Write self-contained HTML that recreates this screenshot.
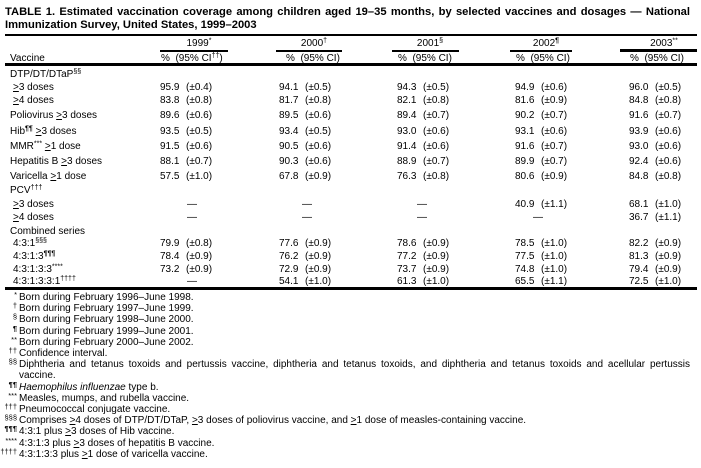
<!DOCTYPE html>
<html><head><meta charset="utf-8">
<style>
html,body{margin:0;padding:0;background:#fff;}
#c{position:relative;width:701px;height:468px;overflow:hidden;background:#fff;color:#000;font-family:"Liberation Sans",Arial,sans-serif;}
.t{position:absolute;white-space:nowrap;font-size:10px;line-height:13px;}
.b{font-weight:bold;font-size:11.2px;}
.r{position:absolute;background:#000;}
sup{font-size:7px;line-height:0;vertical-align:3.5px;}
.p{font-weight:bold;}
.f{position:absolute;white-space:nowrap;font-size:10px;line-height:11px;left:19px;}
.fs{position:absolute;white-space:nowrap;font-size:7.5px;line-height:7px;left:0;width:17px;text-align:right;}
.c{text-align:center;width:60px;}
</style></head><body><div id="c">

<div class="t b" style="left:5px;top:6px;width:685px;text-align:justify;text-align-last:justify;">TABLE 1. Estimated vaccination coverage among children aged 19–35 months, by selected vaccines and dosages — National</div>
<div class="t b" style="left:5px;top:19px;">Immunization Survey, United States, 1999–2003</div>

<div class="r" style="left:5px;top:34px;width:692px;height:2px;"></div>

<div class="t c" style="left:169px;top:37px;">1999<sup>*</sup></div>
<div class="t c" style="left:284px;top:37px;">2000<sup>†</sup></div>
<div class="t c" style="left:400px;top:37px;">2001<sup>§</sup></div>
<div class="t c" style="left:516px;top:37px;">2002<sup class="p">¶</sup></div>
<div class="t c" style="left:634px;top:37px;">2003<sup>**</sup></div>

<div class="r" style="left:160px;top:50px;width:68px;height:2px;"></div>
<div class="r" style="left:276px;top:50px;width:66px;height:2px;"></div>
<div class="r" style="left:392px;top:50px;width:67px;height:2px;"></div>
<div class="r" style="left:510px;top:50px;width:62px;height:2px;"></div>
<div class="r" style="left:620px;top:49px;width:77px;height:3px;"></div>

<div class="t" style="left:10px;top:52px;">Vaccine</div>
<div class="t" style="left:161px;top:52px;">%&nbsp; (95% CI<sup>††</sup>)</div>
<div class="t" style="left:286px;top:52px;">%&nbsp; (95% CI)</div>
<div class="t" style="left:398px;top:52px;">%&nbsp; (95% CI)</div>
<div class="t" style="left:516px;top:52px;">%&nbsp; (95% CI)</div>
<div class="t" style="left:630px;top:52px;">%&nbsp; (95% CI)</div>

<div class="r" style="left:5px;top:63px;width:692px;height:3px;"></div>

<!-- labels -->
<div class="t" style="left:10px;top:68px;">DTP/DT/DTaP<sup>§§</sup></div>
<div class="t" style="left:13px;top:81px;"><u>&gt;</u>3 doses</div>
<div class="t" style="left:13px;top:94px;"><u>&gt;</u>4 doses</div>
<div class="t" style="left:10px;top:109px;">Poliovirus <u>&gt;</u>3 doses</div>
<div class="t" style="left:10px;top:124.5px;">Hib<sup class="p">¶¶</sup> <u>&gt;</u>3 doses</div>
<div class="t" style="left:10px;top:139.5px;">MMR<sup>***</sup> <u>&gt;</u>1 dose</div>
<div class="t" style="left:10px;top:154.5px;">Hepatitis B <u>&gt;</u>3 doses</div>
<div class="t" style="left:10px;top:169.5px;">Varicella <u>&gt;</u>1 dose</div>
<div class="t" style="left:10px;top:183.5px;">PCV<sup>†††</sup></div>
<div class="t" style="left:13px;top:197.5px;"><u>&gt;</u>3 doses</div>
<div class="t" style="left:13px;top:210.5px;"><u>&gt;</u>4 doses</div>
<div class="t" style="left:10px;top:224.5px;">Combined series</div>
<div class="t" style="left:13px;top:237px;">4:3:1<sup>§§§</sup></div>
<div class="t" style="left:13px;top:249.5px;">4:3:1:3<sup class="p">¶¶¶</sup></div>
<div class="t" style="left:13px;top:262.5px;">4:3:1:3:3<sup>****</sup></div>
<div class="t" style="left:13px;top:275px;">4:3:1:3:3:1<sup>††††</sup></div>

<!-- DTP >=3 -->
<div class="t" style="left:160px;top:81px;">95.9</div><div class="t" style="left:186px;top:81px;">(±0.4)</div>
<div class="t" style="left:279px;top:81px;">94.1</div><div class="t" style="left:305px;top:81px;">(±0.5)</div>
<div class="t" style="left:397px;top:81px;">94.3</div><div class="t" style="left:423px;top:81px;">(±0.5)</div>
<div class="t" style="left:515px;top:81px;">94.9</div><div class="t" style="left:541px;top:81px;">(±0.6)</div>
<div class="t" style="left:629px;top:81px;">96.0</div><div class="t" style="left:655px;top:81px;">(±0.5)</div>
<!-- DTP >=4 -->
<div class="t" style="left:160px;top:94px;">83.8</div><div class="t" style="left:186px;top:94px;">(±0.8)</div>
<div class="t" style="left:279px;top:94px;">81.7</div><div class="t" style="left:305px;top:94px;">(±0.8)</div>
<div class="t" style="left:397px;top:94px;">82.1</div><div class="t" style="left:423px;top:94px;">(±0.8)</div>
<div class="t" style="left:515px;top:94px;">81.6</div><div class="t" style="left:541px;top:94px;">(±0.9)</div>
<div class="t" style="left:629px;top:94px;">84.8</div><div class="t" style="left:655px;top:94px;">(±0.8)</div>
<!-- Polio -->
<div class="t" style="left:160px;top:109px;">89.6</div><div class="t" style="left:186px;top:109px;">(±0.6)</div>
<div class="t" style="left:279px;top:109px;">89.5</div><div class="t" style="left:305px;top:109px;">(±0.6)</div>
<div class="t" style="left:397px;top:109px;">89.4</div><div class="t" style="left:423px;top:109px;">(±0.7)</div>
<div class="t" style="left:515px;top:109px;">90.2</div><div class="t" style="left:541px;top:109px;">(±0.7)</div>
<div class="t" style="left:629px;top:109px;">91.6</div><div class="t" style="left:655px;top:109px;">(±0.7)</div>
<!-- Hib -->
<div class="t" style="left:160px;top:124.5px;">93.5</div><div class="t" style="left:186px;top:124.5px;">(±0.5)</div>
<div class="t" style="left:279px;top:124.5px;">93.4</div><div class="t" style="left:305px;top:124.5px;">(±0.5)</div>
<div class="t" style="left:397px;top:124.5px;">93.0</div><div class="t" style="left:423px;top:124.5px;">(±0.6)</div>
<div class="t" style="left:515px;top:124.5px;">93.1</div><div class="t" style="left:541px;top:124.5px;">(±0.6)</div>
<div class="t" style="left:629px;top:124.5px;">93.9</div><div class="t" style="left:655px;top:124.5px;">(±0.6)</div>
<!-- MMR -->
<div class="t" style="left:160px;top:139.5px;">91.5</div><div class="t" style="left:186px;top:139.5px;">(±0.6)</div>
<div class="t" style="left:279px;top:139.5px;">90.5</div><div class="t" style="left:305px;top:139.5px;">(±0.6)</div>
<div class="t" style="left:397px;top:139.5px;">91.4</div><div class="t" style="left:423px;top:139.5px;">(±0.6)</div>
<div class="t" style="left:515px;top:139.5px;">91.6</div><div class="t" style="left:541px;top:139.5px;">(±0.7)</div>
<div class="t" style="left:629px;top:139.5px;">93.0</div><div class="t" style="left:655px;top:139.5px;">(±0.6)</div>
<!-- HepB -->
<div class="t" style="left:160px;top:154.5px;">88.1</div><div class="t" style="left:186px;top:154.5px;">(±0.7)</div>
<div class="t" style="left:279px;top:154.5px;">90.3</div><div class="t" style="left:305px;top:154.5px;">(±0.6)</div>
<div class="t" style="left:397px;top:154.5px;">88.9</div><div class="t" style="left:423px;top:154.5px;">(±0.7)</div>
<div class="t" style="left:515px;top:154.5px;">89.9</div><div class="t" style="left:541px;top:154.5px;">(±0.7)</div>
<div class="t" style="left:629px;top:154.5px;">92.4</div><div class="t" style="left:655px;top:154.5px;">(±0.6)</div>
<!-- Varicella -->
<div class="t" style="left:160px;top:169.5px;">57.5</div><div class="t" style="left:186px;top:169.5px;">(±1.0)</div>
<div class="t" style="left:279px;top:169.5px;">67.8</div><div class="t" style="left:305px;top:169.5px;">(±0.9)</div>
<div class="t" style="left:397px;top:169.5px;">76.3</div><div class="t" style="left:423px;top:169.5px;">(±0.8)</div>
<div class="t" style="left:515px;top:169.5px;">80.6</div><div class="t" style="left:541px;top:169.5px;">(±0.9)</div>
<div class="t" style="left:629px;top:169.5px;">84.8</div><div class="t" style="left:655px;top:169.5px;">(±0.8)</div>
<!-- PCV >=3 -->
<div class="t" style="left:187px;top:197.5px;">—</div>
<div class="t" style="left:302px;top:197.5px;">—</div>
<div class="t" style="left:417px;top:197.5px;">—</div>
<div class="t" style="left:515px;top:197.5px;">40.9</div><div class="t" style="left:541px;top:197.5px;">(±1.1)</div>
<div class="t" style="left:629px;top:197.5px;">68.1</div><div class="t" style="left:655px;top:197.5px;">(±1.0)</div>
<!-- PCV >=4 -->
<div class="t" style="left:187px;top:210.5px;">—</div>
<div class="t" style="left:302px;top:210.5px;">—</div>
<div class="t" style="left:417px;top:210.5px;">—</div>
<div class="t" style="left:533px;top:210.5px;">—</div>
<div class="t" style="left:629px;top:210.5px;">36.7</div><div class="t" style="left:655px;top:210.5px;">(±1.1)</div>
<!-- 4:3:1 -->
<div class="t" style="left:160px;top:237px;">79.9</div><div class="t" style="left:186px;top:237px;">(±0.8)</div>
<div class="t" style="left:279px;top:237px;">77.6</div><div class="t" style="left:305px;top:237px;">(±0.9)</div>
<div class="t" style="left:397px;top:237px;">78.6</div><div class="t" style="left:423px;top:237px;">(±0.9)</div>
<div class="t" style="left:515px;top:237px;">78.5</div><div class="t" style="left:541px;top:237px;">(±1.0)</div>
<div class="t" style="left:629px;top:237px;">82.2</div><div class="t" style="left:655px;top:237px;">(±0.9)</div>
<!-- 4:3:1:3 -->
<div class="t" style="left:160px;top:249.5px;">78.4</div><div class="t" style="left:186px;top:249.5px;">(±0.9)</div>
<div class="t" style="left:279px;top:249.5px;">76.2</div><div class="t" style="left:305px;top:249.5px;">(±0.9)</div>
<div class="t" style="left:397px;top:249.5px;">77.2</div><div class="t" style="left:423px;top:249.5px;">(±0.9)</div>
<div class="t" style="left:515px;top:249.5px;">77.5</div><div class="t" style="left:541px;top:249.5px;">(±1.0)</div>
<div class="t" style="left:629px;top:249.5px;">81.3</div><div class="t" style="left:655px;top:249.5px;">(±0.9)</div>
<!-- 4:3:1:3:3 -->
<div class="t" style="left:160px;top:262.5px;">73.2</div><div class="t" style="left:186px;top:262.5px;">(±0.9)</div>
<div class="t" style="left:279px;top:262.5px;">72.9</div><div class="t" style="left:305px;top:262.5px;">(±0.9)</div>
<div class="t" style="left:397px;top:262.5px;">73.7</div><div class="t" style="left:423px;top:262.5px;">(±0.9)</div>
<div class="t" style="left:515px;top:262.5px;">74.8</div><div class="t" style="left:541px;top:262.5px;">(±1.0)</div>
<div class="t" style="left:629px;top:262.5px;">79.4</div><div class="t" style="left:655px;top:262.5px;">(±0.9)</div>
<!-- 4:3:1:3:3:1 -->
<div class="t" style="left:187px;top:275px;">—</div>
<div class="t" style="left:279px;top:275px;">54.1</div><div class="t" style="left:305px;top:275px;">(±1.0)</div>
<div class="t" style="left:397px;top:275px;">61.3</div><div class="t" style="left:423px;top:275px;">(±1.0)</div>
<div class="t" style="left:515px;top:275px;">65.5</div><div class="t" style="left:541px;top:275px;">(±1.1)</div>
<div class="t" style="left:629px;top:275px;">72.5</div><div class="t" style="left:655px;top:275px;">(±1.0)</div>

<div class="r" style="left:5px;top:287px;width:692px;height:3px;"></div>

<!-- footnotes: spacing 11.2 -->
<div class="fs" style="top:291px;">*</div><div class="f" style="top:292px;">Born during February 1996–June 1998.</div>
<div class="fs" style="top:302.2px;">†</div><div class="f" style="top:303.2px;">Born during February 1997–June 1999.</div>
<div class="fs" style="top:313.4px;">§</div><div class="f" style="top:314.4px;">Born during February 1998–June 2000.</div>
<div class="fs p" style="top:324.6px;">¶</div><div class="f" style="top:325.6px;">Born during February 1999–June 2001.</div>
<div class="fs" style="top:335.8px;">**</div><div class="f" style="top:336.8px;">Born during February 2000–June 2002.</div>
<div class="fs" style="top:347px;">††</div><div class="f" style="top:348px;">Confidence interval.</div>
<div class="fs" style="top:358.2px;">§§</div><div class="f" style="top:359.2px;width:671px;text-align:justify;text-align-last:justify;">Diphtheria and tetanus toxoids and pertussis vaccine, diphtheria and tetanus toxoids, and diphtheria and tetanus toxoids and acellular pertussis</div>
<div class="f" style="top:370.4px;">vaccine.</div>
<div class="fs p" style="top:380.6px;">¶¶</div><div class="f" style="top:381.6px;"><i>Haemophilus influenzae</i> type b.</div>
<div class="fs" style="top:391.8px;">***</div><div class="f" style="top:392.8px;">Measles, mumps, and rubella vaccine.</div>
<div class="fs" style="top:403px;">†††</div><div class="f" style="top:404px;">Pneumococcal conjugate vaccine.</div>
<div class="fs" style="top:414.2px;">§§§</div><div class="f" style="top:415.2px;">Comprises <u>&gt;</u>4 doses of DTP/DT/DTaP, <u>&gt;</u>3 doses of poliovirus vaccine, and <u>&gt;</u>1 dose of measles-containing vaccine.</div>
<div class="fs p" style="top:425.4px;">¶¶¶</div><div class="f" style="top:426.4px;">4:3:1 plus <u>&gt;</u>3 doses of Hib vaccine.</div>
<div class="fs" style="top:436.6px;">****</div><div class="f" style="top:437.6px;">4:3:1:3 plus <u>&gt;</u>3 doses of hepatitis B vaccine.</div>
<div class="fs" style="top:447.8px;">††††</div><div class="f" style="top:448.8px;">4:3:1:3:3 plus <u>&gt;</u>1 dose of varicella vaccine.</div>

</div></body></html>
